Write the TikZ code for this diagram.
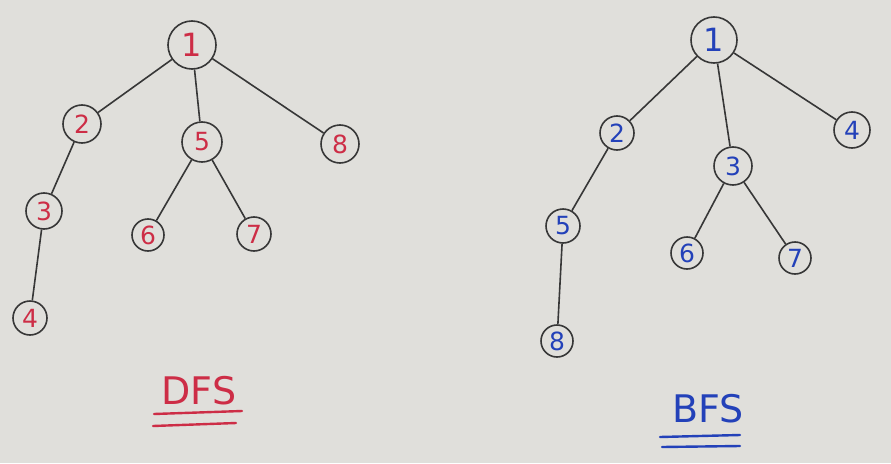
\documentclass[tikz,border=0pt]{standalone}
\usepackage{fontspec}
\setmainfont{DejaVu Sans}
\definecolor{paper}{RGB}{224,223,219}
\definecolor{pen}{RGB}{55,55,55}
\definecolor{redink}{RGB}{205,45,70}
\definecolor{blueink}{RGB}{35,65,185}
\tikzset{
  vtx/.style={circle, draw=pen, line width=1.6pt, inner sep=0pt, font=\fontsize{25}{25}\selectfont},
  dnode/.style={vtx, text=redink},
  bnode/.style={vtx, text=blueink},
  edge/.style={draw=pen, line width=1.6pt},
  title/.style={font=\fontsize{38}{38}\selectfont},
  uline/.style={line width=2.4pt, line cap=round}
}
\begin{document}
\begin{tikzpicture}[x=1pt,y=-1pt]
\fill[paper] (0,0) rectangle (891,463);
\useasboundingbox (0,0) rectangle (891,463);
% DFS tree
\node[dnode, minimum size=48pt, font=\fontsize{32}{32}\selectfont] (d1) at (192,45) {1};
\node[dnode, minimum size=38pt] (d2) at (82,124) {2};
\node[dnode, minimum size=40pt] (d5) at (202,142) {5};
\node[dnode, minimum size=38pt] (d8) at (340,144) {8};
\node[dnode, minimum size=36pt] (d3) at (44,211) {3};
\node[dnode, minimum size=32pt] (d6) at (148,235) {6};
\node[dnode, minimum size=34pt] (d7) at (254,234) {7};
\node[dnode, minimum size=34pt] (d4) at (30,318) {4};
\draw[edge] (d1) -- (d2);
\draw[edge] (d1) -- (d5);
\draw[edge] (d1) -- (d8);
\draw[edge] (d2) -- (d3);
\draw[edge] (d3) -- (d4);
\draw[edge] (d5) -- (d6);
\draw[edge] (d5) -- (d7);
\node[title, text=redink] (dt) at (199,391) {DFS};
\coordinate (du1a) at (154,414); \coordinate (du1b) at (242,411);
\coordinate (du2a) at (153,426); \coordinate (du2b) at (236,423);
\draw[uline, redink] (du1a) -- (du1b);
\draw[uline, redink] (du2a) -- (du2b);
% BFS tree
\node[bnode, minimum size=46pt, font=\fontsize{32}{32}\selectfont] (b1) at (714,40) {1};
\node[bnode, minimum size=34pt] (b2) at (617,133) {2};
\node[bnode, minimum size=36pt] (b4) at (852,130) {4};
\node[bnode, minimum size=38pt] (b3) at (733,166) {3};
\node[bnode, minimum size=34pt] (b5) at (563,226) {5};
\node[bnode, minimum size=32pt] (b6) at (687,253) {6};
\node[bnode, minimum size=32pt] (b7) at (795,258) {7};
\node[bnode, minimum size=32pt] (b8) at (557,341) {8};
\draw[edge] (b1) -- (b2);
\draw[edge] (b1) -- (b3);
\draw[edge] (b1) -- (b4);
\draw[edge] (b2) -- (b5);
\draw[edge] (b5) -- (b8);
\draw[edge] (b3) -- (b6);
\draw[edge] (b3) -- (b7);
\node[title, text=blueink] (bt) at (708,409) {BFS};
\coordinate (bu1a) at (660,437); \coordinate (bu1b) at (740,435);
\coordinate (bu2a) at (662,447); \coordinate (bu2b) at (740,446);
\draw[uline, blueink] (bu1a) -- (bu1b);
\draw[uline, blueink] (bu2a) -- (bu2b);
\end{tikzpicture}
\end{document}
